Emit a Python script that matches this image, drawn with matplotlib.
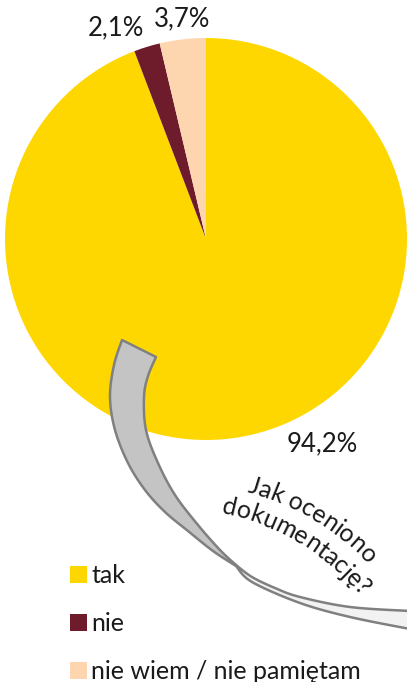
import numpy as np
import matplotlib
matplotlib.use("Agg")
import matplotlib.pyplot as plt
from matplotlib.patches import Polygon, Patch
from matplotlib.font_manager import FontProperties

plt.rcParams['font.family'] = ['Lato', 'DejaVu Sans']

categories = ["tak", "nie", "nie wiem / nie pamiętam"]
values = [94.2, 2.1, 3.7]
colors = ["#FFD700", "#6E1B2C", "#FDD6B0"]
label_texts = [f"{v:.1f}%".replace(".", ",") for v in values]
question_lines = ["Jak oceniono", "dokumentację?"]

W, H = 407, 682
fig = plt.figure(figsize=(W / 100, H / 100), dpi=100)
ax = fig.add_axes([0, 0, 1, 1])

def Y(py):
    return H - py

# ---- ribbon arrow (decorative shape) ----
def smooth(pts, n=12):
    pts = np.asarray(pts, float)
    P = np.vstack([pts[0], pts, pts[-1]])
    out = []
    for i in range(1, len(P) - 2):
        p0, p1, p2, p3 = P[i - 1], P[i], P[i + 1], P[i + 2]
        for t in np.linspace(0, 1, n, endpoint=False):
            t2, t3 = t * t, t * t * t
            out.append(0.5 * ((2 * p1) + (-p0 + p2) * t + (2 * p0 - 5 * p1 + 4 * p2 - p3) * t2
                              + (-p0 + 3 * p1 - 3 * p2 + p3) * t3))
    out.append(P[-2])
    return np.array(out)

outer1 = [(122, 340), (114, 365), (110, 397), (115, 430), (128, 463), (145, 490),
          (165, 512), (188, 531), (213, 551), (236, 566)]
inner1 = [(156, 357), (148, 376), (144, 397), (146, 430), (158, 463), (175, 495),
          (198, 525), (220, 550), (236, 565)]
upper2 = [(236, 565), (252, 577), (275, 588), (300, 597), (350, 607), (410, 611)]
lower2 = [(236, 566), (252, 582), (300, 603), (350, 617), (410, 629)]

def conv(a):
    a = np.asarray(a, float)
    return np.column_stack([a[:, 0], H - a[:, 1]])

o1 = conv(smooth(outer1)); i1 = conv(smooth(inner1))
u2 = conv(smooth(upper2)); l2 = conv(smooth(lower2))

poly1 = np.vstack([o1, i1[::-1]])
poly2 = np.vstack([u2, l2[::-1]])
ax.add_patch(Polygon(poly2, closed=True, facecolor="#F2F2F2", edgecolor="#808080",
                     linewidth=1.8, zorder=3, joinstyle="round"))
ax.add_patch(Polygon(poly1, closed=True, facecolor="#C4C4C4", edgecolor="#808080",
                     linewidth=1.8, zorder=4, joinstyle="round"))

# ---- pie ----
wedges, _ = ax.pie(values, colors=colors, startangle=90, counterclock=False,
                   center=(206, Y(239)), radius=201,
                   wedgeprops=dict(linewidth=0), frame=True)
for w in wedges:
    w.set_zorder(2)

label_pos = [(322, 444), (116, 28), (182, 19)]
for txt, (px, py) in zip(label_texts, label_pos):
    ax.text(px, Y(py), txt, ha="center", va="center", fontsize=18.5, color="#1a1a1a", zorder=5)

# ---- curved question text (WordArt-like arc) ----
renderer = fig.canvas.get_renderer()
qfs = 18
qprop = FontProperties(family=['Lato', 'DejaVu Sans'], size=qfs)

def tw(s):
    if not s:
        return 0.0
    w, h, d = renderer.get_text_width_height_descent(s, qprop, ismath=False)
    return w

mid = np.array([312.0, 520.0])       # screen px, baseline mid of first line
ang_mid = np.deg2rad(-59.0)
R1 = 270.0
C = mid - R1 * np.array([np.cos(ang_mid), np.sin(ang_mid)])
track = 1.0
line_gap = 27.0
for k, line in enumerate(question_lines):
    R = R1 - k * line_gap
    total = tw(line) * track
    for i, ch in enumerate(line):
        if ch == " ":
            continue
        centre = (tw(line[:i + 1]) - tw(ch) / 2) * track
        s = centre - total / 2
        phi = ang_mid + s / R
        px = C[0] + R * np.cos(phi)
        py = C[1] + R * np.sin(phi)
        rot = -np.rad2deg(phi + np.pi / 2)
        ax.text(px, Y(py), ch, ha="center", va="baseline", rotation=rot,
                rotation_mode="anchor", fontproperties=qprop, color="#1a1a1a", zorder=5)

# ---- legend ----
handles = [Patch(facecolor=c, edgecolor="none") for c in colors]
leg = ax.legend(handles, categories, loc="upper left",
                bbox_to_anchor=(70 / W, Y(564) / H), bbox_transform=ax.transAxes,
                frameon=False, fontsize=18, handlelength=0.68, handleheight=0.68,
                handletextpad=0.17, labelspacing=1.0, borderpad=0, borderaxespad=0)
for t in leg.get_texts():
    t.set_color("#1a1a1a")

ax.set_xlim(0, W)
ax.set_ylim(0, H)
ax.set_aspect("equal")
ax.axis("off")

fig.savefig("out.png", dpi=100)
